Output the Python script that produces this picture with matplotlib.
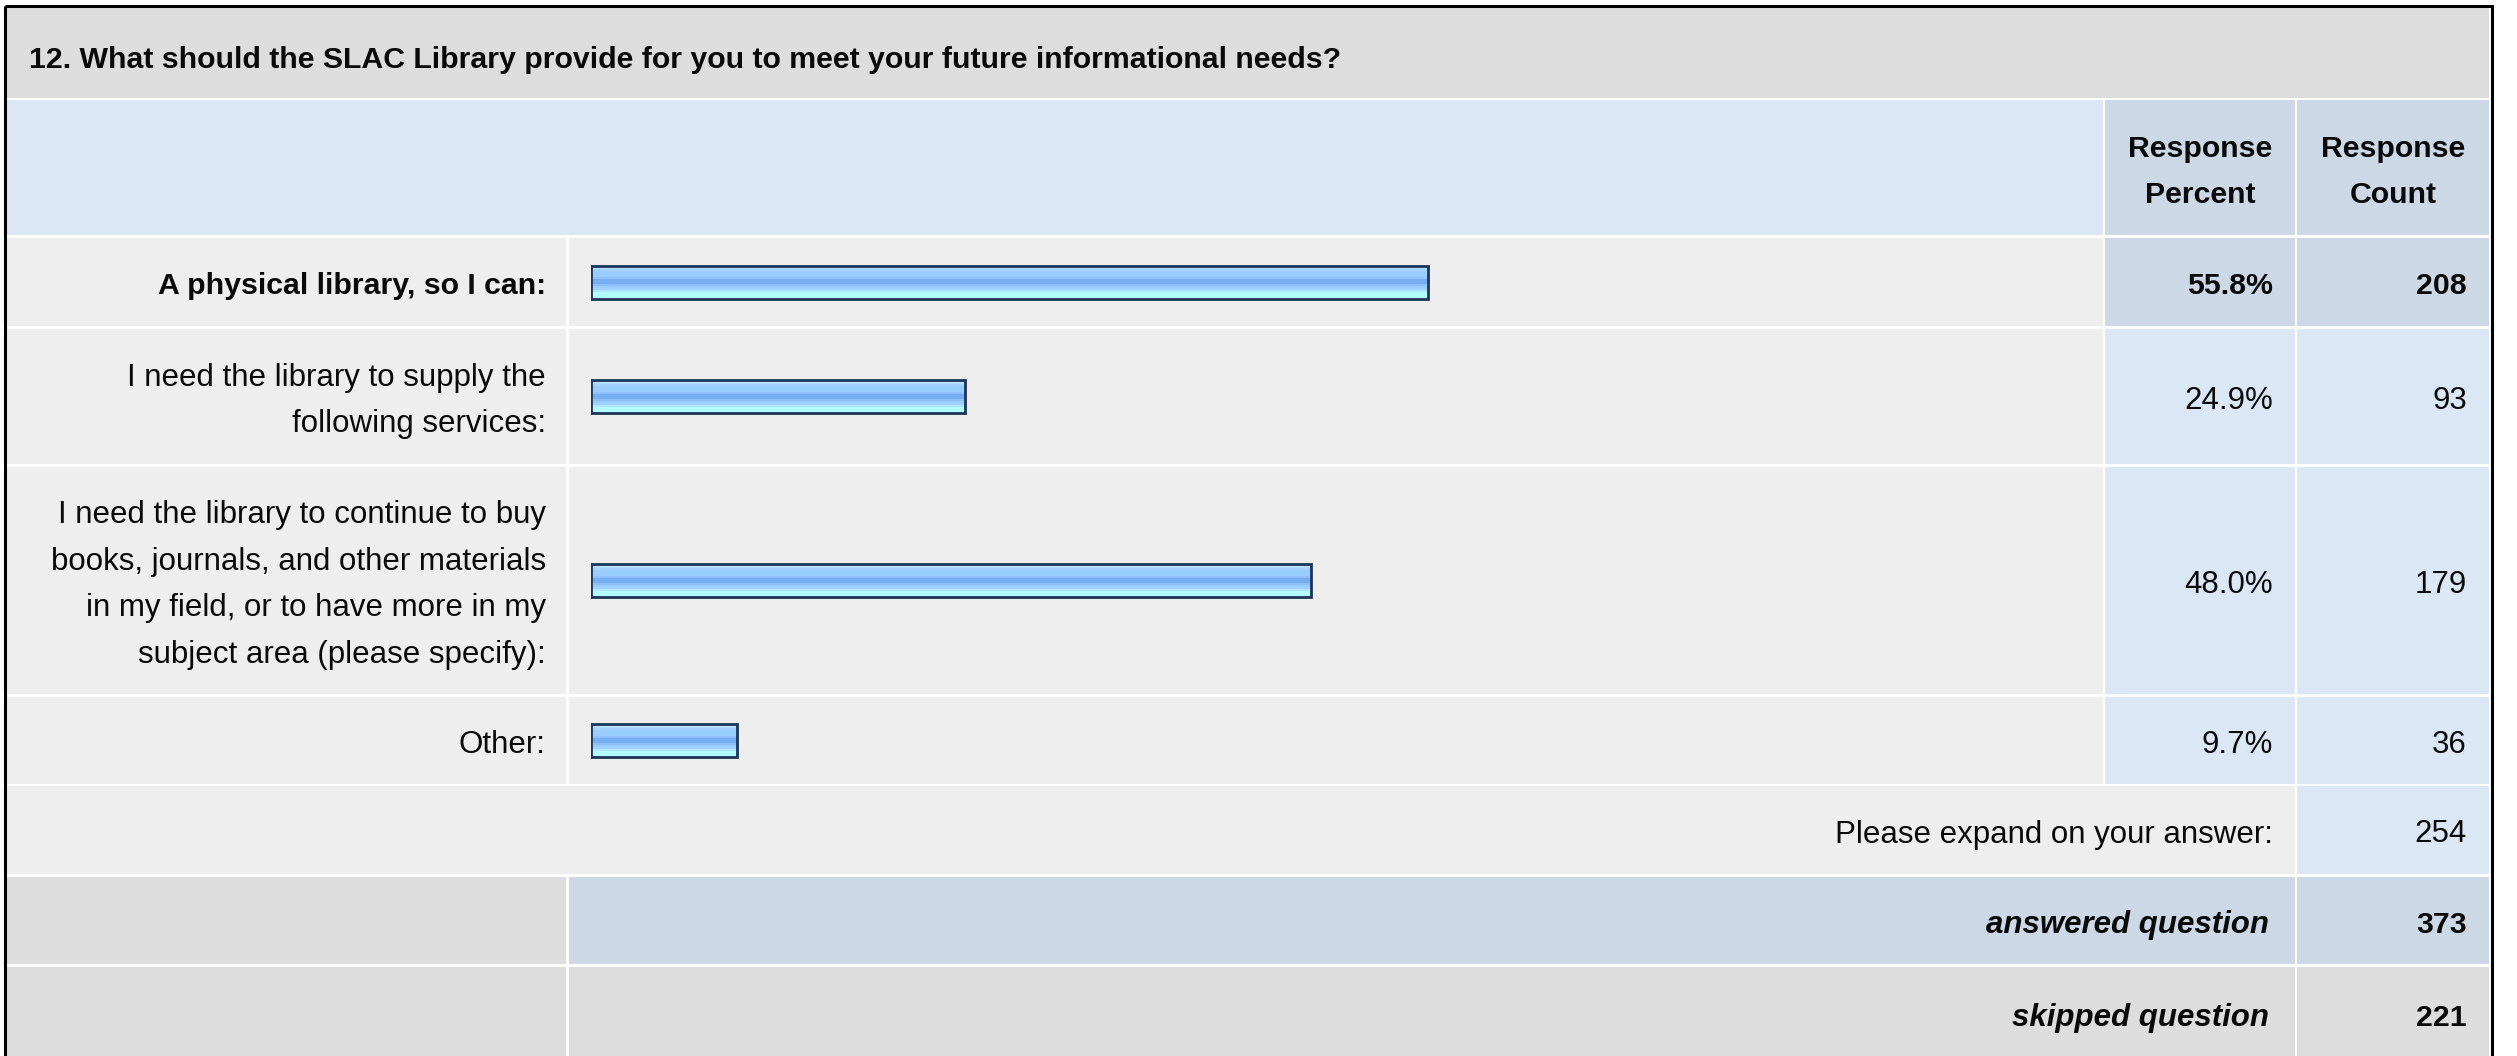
import numpy as np
import matplotlib.pyplot as plt
from matplotlib.patches import Rectangle
from matplotlib.colors import to_rgb

plt.rcParams['font.family'] = ['Liberation Sans', 'DejaVu Sans']

# survey data
question = "12. What should the SLAC Library provide for you to meet your future informational needs?"
answers = ["A physical library, so I can:",
           "I need the library to supply the\nfollowing services:",
           "I need the library to continue to buy\nbooks, journals, and other materials\nin my field, or to have more in my\nsubject area (please specify):",
           "Other:"]
percents = [55.8, 24.9, 48.0, 9.7]
counts = [208, 93, 179, 36]
expand_count = 254
answered = 373
skipped = 221

# layout in pixels
W, H = 2517, 1056
FS = 22.5       # regular text
FSB = 21.8      # bold text
CAP = 12.5      # half cap height in px, used to center baselines
LS = 46.6       # line spacing px
cols = [(7, 566), (569, 2103), (2105, 2295), (2297, 2489)]
title_row = (8, 98)
head_row = (100, 235)
rows = [(238, 326), (329, 464), (467, 694), (697, 784)]
expand_row = (786, 874)
ans_row = (877, 964)
skip_row = (967, 1060)
bar_x0, bar_x100 = 591, 2091

GRAY = '#dddddd'
LIGHT = '#eeeeee'
BLUE = '#dce7f5'
DBLUE = '#ccd8e6'

fig = plt.figure(figsize=(W / 100, H / 100), dpi=100)
bg = fig.add_axes([0, 0, 1, 1])
bg.set_xlim(0, W)
bg.set_ylim(H, 0)
bg.axis('off')


def cell(x, y, c):
    bg.add_patch(Rectangle((x[0], y[0]), x[1] - x[0], y[1] - y[0], facecolor=c, edgecolor='none'))


def put(x, yc, s, ha='right', weight='normal', style='normal', size=None):
    if size is None:
        size = FSB if weight == 'bold' else FS
    lines = s.split('\n')
    n = len(lines)
    for i, ln in enumerate(lines):
        y = yc + (i - (n - 1) / 2) * LS + CAP
        bg.text(x, y, ln, ha=ha, va='baseline', fontsize=size, fontweight=weight,
                fontstyle=style, color='#0a0a0a')


def mid(r):
    return (r[0] + r[1]) / 2


# background cells
cell((cols[0][0], cols[3][1]), title_row, GRAY)
cell((cols[0][0], cols[1][1]), head_row, BLUE)
cell(cols[2], head_row, DBLUE)
cell(cols[3], head_row, DBLUE)
for i, r in enumerate(rows):
    cell(cols[0], r, LIGHT)
    cell(cols[1], r, LIGHT)
    c = DBLUE if i == 0 else BLUE
    cell(cols[2], r, c)
    cell(cols[3], r, c)
cell((cols[0][0], cols[2][1]), expand_row, LIGHT)
cell(cols[3], expand_row, BLUE)
cell(cols[0], ans_row, GRAY)
cell((cols[1][0], cols[2][1]), ans_row, DBLUE)
cell(cols[3], ans_row, DBLUE)
cell(cols[0], skip_row, GRAY)
cell((cols[1][0], cols[2][1]), skip_row, GRAY)
cell(cols[3], skip_row, GRAY)

# outer frame
bg.add_patch(Rectangle((4.5, 5.5), 2487, 1100, fill=False, edgecolor='black', lw=2.2))

# texts
put(29, mid(title_row) + 3, question, ha='left', weight='bold')
put(mid(cols[2]), mid(head_row), "Response\nPercent", ha='center', weight='bold')
put(mid(cols[3]), mid(head_row), "Response\nCount", ha='center', weight='bold')
pct_x = cols[2][1] - 22
cnt_x = cols[3][1] - 22
for i, (lab, p, n) in enumerate(zip(answers, percents, counts)):
    w = 'bold' if i == 0 else 'normal'
    yc = mid(rows[i])
    put(cols[0][1] - 20, yc, lab, weight=w)
    put(pct_x, yc, f"{p:.1f}%", weight=w)
    put(cnt_x, yc, str(n), weight=w)
put(pct_x, mid(expand_row), "Please expand on your answer:")
put(cnt_x, mid(expand_row), str(expand_count))
put(pct_x - 4, mid(ans_row), "answered question", weight='bold', style='italic', size=22.5)
put(cnt_x, mid(ans_row), str(answered), weight='bold')
put(pct_x - 4, mid(skip_row), "skipped question", weight='bold', style='italic', size=22.5)
put(cnt_x, mid(skip_row), str(skipped), weight='bold')

# bars: x axis in percent
ax = fig.add_axes([bar_x0 / W, 0, (bar_x100 - bar_x0) / W, 1])
ax.set_autoscale_on(False)
ax.set_xlim(0, 100)
ax.set_ylim(H, 0)
ax.axis('off')

grad = ['#d8ecff', '#b4dcff', '#a3d2ff', '#99ccff', '#99ccff', '#99ccff', '#8fc2fb',
        '#78aef0', '#78aef0', '#78aef0', '#8cc0fa', '#99ccff', '#a0d4ff', '#aee6ff',
        '#b3ffff', '#b3ffff', '#b3ffff']
img = np.array([[to_rgb(c)] for c in grad])
bh = 33
ys = [mid(r) for r in rows]
for y, p in zip(ys, percents):
    ax.imshow(img, extent=(0, p, y + bh / 2, y - bh / 2), aspect='auto', interpolation='nearest')
ax.barh(ys, percents, height=bh, color='none', edgecolor='#1c3557', linewidth=2.0)

fig.savefig('out.png', dpi=100)
